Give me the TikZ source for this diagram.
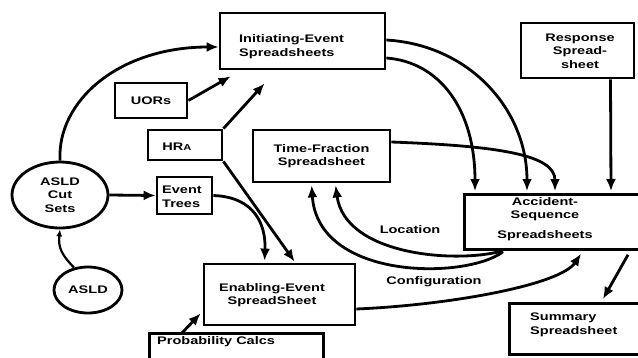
\documentclass[tikz,border=0pt]{standalone}
\usepackage{fontspec}
\setmainfont{Liberation Sans}[FakeStretch=1.32]
\usetikzlibrary{arrows.meta,shapes.geometric,calc}
\newcommand{\lbf}{\bfseries\fontsize{11}{13.5}\selectfont}
\begin{document}
\begin{tikzpicture}[x=1pt,y=-1pt,
  box/.style={draw, line width=2.8pt, inner sep=0pt},
  lbl/.style={font=\lbf, align=center, inner sep=0pt},
  arr/.style={line width=2.8pt, -{Latex[length=12pt,width=10pt]}},
  oval/.style={draw, ellipse, line width=2.8pt, inner sep=0pt, font=\lbf, align=center}]
\useasboundingbox[fill=white] (0,0) rectangle (638,357);

% boxes
\node[box, minimum width=165, minimum height=56] (init) at (302.5,41) {};
\node[lbl, align=left, anchor=west] (initt) at (239,46.5) {Initiating-Event\\Spreadsheets};

\node[box, minimum width=113, minimum height=55] (resp) at (577.5,50.5) {};
\node[lbl] (respt) at (580,51) {Response\\Spread-\\sheet};

\node[box, lbl, minimum width=72, minimum height=35] (uors) at (151,100.5) {UORs};

\node[box, minimum width=74, minimum height=30] (hra) at (185,145) {};
\node[lbl] (hrat) at (177,147) {HR{\fontsize{8.5}{9}\selectfont A}};

\node[box, lbl, minimum width=137, minimum height=52] (tf) at (321.5,156) {Time-Fraction\\Spreadsheet};

\node[oval, minimum width=96, minimum height=66] (cuts) at (60,195) {ASLD\\Cut\\Sets};

\node[box, minimum width=55, minimum height=37] (trees) at (184.5,195.5) {};
\node[lbl, align=left, anchor=west] (treest) at (162,197) {Event\\Trees};

\node[oval, minimum width=68, minimum height=46] (asld) at (88,290) {ASLD};

\node[box, minimum width=151, minimum height=61] (enab) at (279.5,294.5) {};
\node[lbl] (enabt) at (272,295) {Enabling-Event\\SpreadSheet};

\node[box, minimum width=174, minimum height=60, anchor=north west] (prob) at (148,332) {};
\node[lbl, anchor=west] (probt) at (157,342) {Probability Calcs};

\node[box, minimum width=190, minimum height=55, anchor=north west] (acc) at (463,193) {};
\node[lbl] (acct) at (545,219) {Accident-\\Sequence\\[6pt]Spreadsheets};

\node[box, minimum width=145, minimum height=51, anchor=north west] (summ) at (508,302) {};
\node[lbl, align=left, anchor=west] (summt) at (530,325) {Summary\\Spreadsheet};

% labels
\node[lbl] (loc) at (410,230) {Location};
\node[lbl] (conf) at (434,282) {Configuration};

% connectors
\draw[arr] (cuts.north) .. controls (57,100) and (120,47) .. ([yshift=-6pt]init.west);
\draw[arr] (uors.east) -- ($(init.south west)+(12,6)$);
\draw[arr] (hra.north east) -- ($(init.south west)+(46,13)$);
\draw[arr] (hra.south east) -- ($(enab.north west)+(92,-1)$);
\draw[arr] (trees.east) .. controls (255,197) and (266,225) .. ($(enab.north west)+(62,-2)$);
\draw[arr] (cuts.east) -- (trees.west);
\draw[arr, line width=2.2pt, -{Latex[length=7pt,width=6pt]}] (asld.122) .. controls (62,255) and (58,248) .. (cuts.south);

\draw[arr] ([yshift=1pt]init.east) .. controls (470,45) and (527,110) .. ($(acc.north west)+(64,-2)$);
\draw[arr] ([yshift=-17pt]init.east) .. controls (440,62) and (475,110) .. ($(acc.north west)+(12,-2)$);
\draw[arr] ([yshift=14pt]tf.east) .. controls (500,146) and (555,155) .. ($(acc.north west)+(92,-2)$);
\draw[arr] ([xshift=33pt]resp.south) -- ($(acc.north west)+(148,-2)$);

\draw[arr] ($(acc.south west)+(40,0)$) .. controls (455,264) and (345,255) .. ($(tf.south west)+(84,2)$);
\draw[arr] ($(acc.south west)+(40,1)$) .. controls (465,280) and (318,280) .. ($(tf.south west)+(60,2)$);
\draw[arr] ([yshift=-14.5pt]enab.east) .. controls (450,305) and (560,285) .. ($(acc.south west)+(118,3)$);
\draw[arr] ($(acc.south west)+(165,4)$) -- ($(summ.north west)+(95,-3)$);
\draw[arr] ($(prob.north west)+(33,2)$) -- ($(enab.south west)+(-2,-13)$);
\end{tikzpicture}
\end{document}
